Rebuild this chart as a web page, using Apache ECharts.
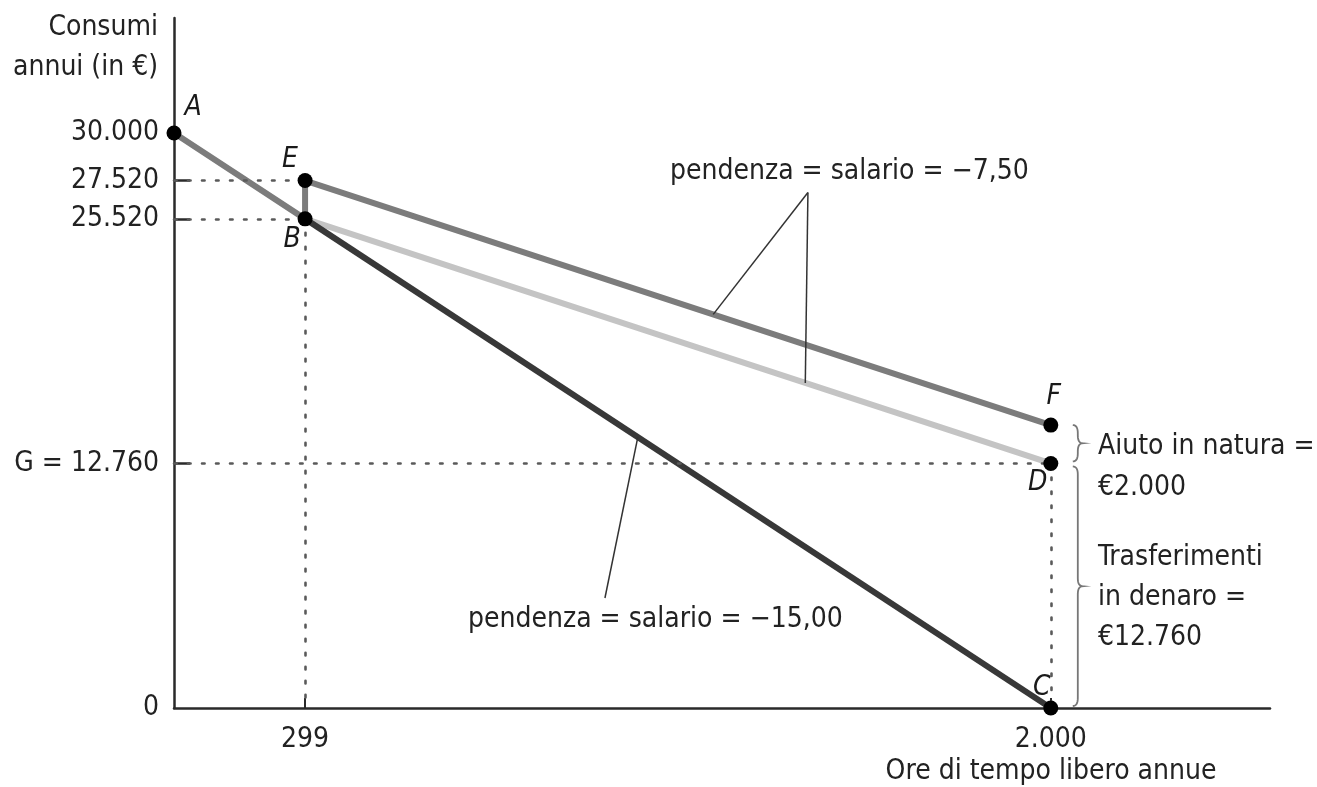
<!DOCTYPE html>
<html><head><meta charset="utf-8">
<script src="https://cdn.jsdelivr.net/npm/echarts@6/dist/echarts.min.js"></script>
<style>html,body{margin:0;padding:0;background:#fff}#c{width:1317px;height:787px}</style>
</head><body><div id="c"></div>
<script>
// ---- data ----
const pointNames = ['A', 'B', 'C', 'D', 'E', 'F'];
const leisureHours = [0, 299, 2000, 2000, 299, 2000];
const consumption = [30000, 25520, 0, 12760, 27520, 14760];
const wageLine = ['B', 'C'];            // original budget line (slope -15)
const inKindLine = ['A', 'B', 'E', 'F'];  // with in-kind aid
const cashLine = ['B', 'D'];            // with cash transfer (slope -7.5)
const yTickValues = [0, 12760, 25520, 27520, 30000];
const yTickLabels = ['0', 'G = 12.760', '25.520', '27.520', '30.000'];
const yTickMarks = [12760, 25520, 27520];
const xTickValues = [299, 2000];
const xTickLabels = ['299', '2.000'];
const yTitle = 'Consumi\nannui (in €)';
const xTitle = 'Ore di tempo libero annue';
const slopeLabelHigh = 'pendenza = salario = \u22127,50';
const slopeLabelLow = 'pendenza = salario = \u221215,00';
const inKindNote = 'Aiuto in natura =\n€2.000';
const cashNote = 'Trasferimenti\nin denaro =\n€12.760';

// ---- helpers ----
const FONT = "'DejaVu Sans Condensed', 'Liberation Sans Narrow', 'Liberation Sans', sans-serif";
const FS = 28;
const TXT = '#222';
const P = n => { const i = pointNames.indexOf(n); return [leisureHours[i], consumption[i]]; };
const onSeg = (a, b, h) => { const pa = P(a), pb = P(b); const t = (h - pa[0]) / (pb[0] - pa[0]); return [h, pa[1] + t * (pb[1] - pa[1])]; };
const labelOffset = { A: [19, -25], B: [-13, 21], C: [-9, -20], D: [-13, 19], E: [-15, -21], F: [3, -28] };

const guideStyle = { type: [2.6, 11.4], width: 2.6, color: '#5a5a5a', cap: 'round' };
const guides = [
  [[0, P('E')[1]], P('E')],
  [[0, P('B')[1]], P('B')],
  [[0, P('D')[1]], P('D')],
  [P('B'), [P('B')[0], 0]],
  [P('D'), P('C')]
];
const apexHigh = [1446, 26900];
const leaders = [
  [apexHigh, onSeg('E', 'F', 1230)],
  [apexHigh, onSeg('B', 'D', 1440)],
  [onSeg('B', 'C', 1058), [983, 5740]]
];

const chart = echarts.init(document.getElementById('c'), null, { renderer: 'canvas' });
const axisLine = { show: true, lineStyle: { color: '#2a2a2a', width: 2.5 } };
chart.setOption({
  animation: false,
  backgroundColor: '#fff',
  grid: { left: 174, right: 47, top: 18, bottom: 79, containLabel: false },
  xAxis: {
    type: 'value', min: 0, max: 2500,
    axisLine: axisLine, splitLine: { show: false },
    axisTick: { show: true, inside: true, length: 10, customValues: xTickValues, lineStyle: { color: '#2a2a2a', width: 2 } },
    axisLabel: { customValues: xTickValues, formatter: v => xTickLabels[xTickValues.indexOf(v)], margin: 18,
      fontFamily: FONT, fontSize: FS, color: TXT }
  },
  yAxis: {
    type: 'value', min: 0, max: 36000,
    axisLine: axisLine, splitLine: { show: false },
    axisTick: { show: true, inside: true, length: 16, customValues: yTickMarks, lineStyle: { color: '#2a2a2a', width: 2.5 } },
    axisLabel: { customValues: yTickValues, formatter: v => yTickLabels[yTickValues.indexOf(v)], margin: 15,
      fontFamily: FONT, fontSize: FS, color: TXT }
  },
  series: [
    { type: 'line', name: 'guides', data: [], silent: true, symbol: 'none', z: 1,
      markLine: { silent: true, symbol: 'none', label: { show: false }, lineStyle: guideStyle,
        data: guides.map(g => [{ coord: g[0] }, { coord: g[1] }]) } },
    { type: 'line', name: 'leaders', data: [], silent: true, symbol: 'none', z: 1,
      markLine: { silent: true, symbol: 'none', label: { show: false }, lineStyle: { type: 'solid', width: 1.5, color: '#333' },
        data: leaders.map(g => [{ coord: g[0] }, { coord: g[1] }]) } },
    { type: 'line', name: 'cash', data: cashLine.map(P), symbol: 'none', z: 2,
      lineStyle: { color: '#c4c4c4', width: 6 } },
    { type: 'line', name: 'wage', data: wageLine.map(P), symbol: 'none', z: 3,
      lineStyle: { color: '#383838', width: 6 } },
    { type: 'line', name: 'inKind', data: inKindLine.map(P), symbol: 'none', z: 4,
      lineStyle: { color: '#7c7c7c', width: 6 } },
    { type: 'scatter', name: 'points', z: 5, symbolSize: 15,
      itemStyle: { color: '#000', opacity: 1 },
      data: pointNames.map(n => ({ name: n, value: P(n),
        label: { show: true, position: 'inside', offset: labelOffset[n], formatter: n,
          fontFamily: FONT, fontStyle: 'italic', fontSize: FS, color: '#1a1a1a' } })) }
  ]
});

// curly brace as a sampled polyline (quadratic segments)
function brace(x, y1, y2, w) {
  const h = w / 2, ym = (y1 + y2) / 2, r = Math.min(8, (y2 - y1) / 4);
  const pts = [];
  const quad = (p0, c, p1) => { for (let i = 0; i <= 8; i++) { const t = i / 8, u = 1 - t;
    pts.push([u * u * p0[0] + 2 * u * t * c[0] + t * t * p1[0], u * u * p0[1] + 2 * u * t * c[1] + t * t * p1[1]]); } };
  quad([x, y1], [x + h, y1], [x + h, y1 + r]);
  pts.push([x + h, ym - r]);
  quad([x + h, ym - r], [x + h, ym], [x + w, ym]);
  quad([x + w, ym], [x + h, ym], [x + h, ym + r]);
  pts.push([x + h, y2 - r]);
  quad([x + h, y2 - r], [x + h, y2], [x, y2]);
  return pts;
}
const px = d => chart.convertToPixel({ gridIndex: 0 }, d);
const pF = px(P('F')), pD = px(P('D')), pC = px(P('C'));
const bx = pF[0] + 22;
const txt = (text, x, y, align, extra) => ({ type: 'text', z: 10, style: Object.assign({ text, x, y, align,
  verticalAlign: 'middle', font: FS + 'px ' + FONT, fontFamily: FONT, fontSize: FS, fill: TXT, lineHeight: 40 }, extra || {}) });

chart.setOption({
  graphic: [
    { type: 'polyline', z: 10, shape: { points: brace(bx, pF[1], pD[1] - 2, 10) }, style: { stroke: '#777', lineWidth: 1.8, fill: null } },
    { type: 'polyline', z: 10, shape: { points: brace(bx, pD[1] + 3, pC[1] - 2, 10) }, style: { stroke: '#777', lineWidth: 1.8, fill: null } },
    txt(yTitle, 158, 48, 'right'),
    txt(xTitle, 1051, 772, 'center'),
    txt(slopeLabelHigh, 670, 172, 'left'),
    txt(slopeLabelLow, 468, 620, 'left'),
    txt(inKindNote, 1098, 467, 'left', { lineHeight: 41 }),
    txt(cashNote, 1098, 598, 'left', { lineHeight: 40 })
  ]
});
</script></body></html>
